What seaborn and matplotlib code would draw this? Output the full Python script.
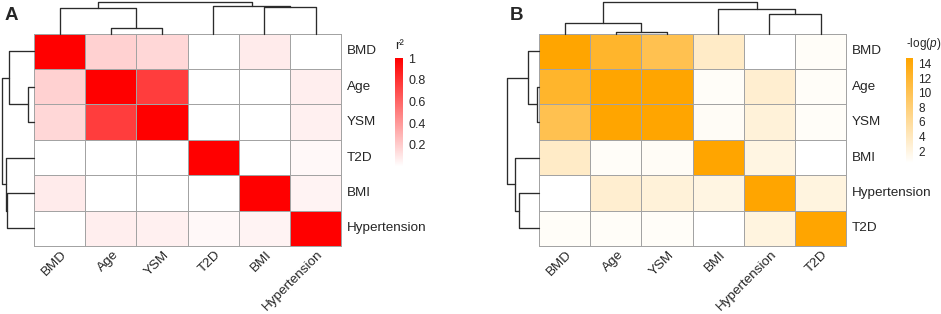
import numpy as np
import pandas as pd
import matplotlib
matplotlib.use("Agg")
import matplotlib.pyplot as plt
import matplotlib.transforms as mtransforms
from matplotlib.colors import LinearSegmentedColormap
import seaborn as sns

# ---------------- data ----------------
labels_a = ["BMD", "Age", "YSM", "T2D", "BMI", "Hypertension"]
r2 = [
    [1.00, 0.18, 0.16, 0.00, 0.08, 0.00],
    [0.18, 1.00, 0.76, 0.00, 0.00, 0.07],
    [0.16, 0.76, 1.00, 0.00, 0.00, 0.06],
    [0.00, 0.00, 0.00, 1.00, 0.00, 0.03],
    [0.08, 0.00, 0.00, 0.00, 1.00, 0.05],
    [0.00, 0.07, 0.06, 0.03, 0.05, 1.00],
]
# (left, right, height) - new clusters get ids n, n+1, ...
merges_a = [(1, 2, 0.19), (0, 6, 0.79), (4, 5, 0.83), (3, 8, 0.86), (7, 9, 1.00)]
ticks_a = [0.2, 0.4, 0.6, 0.8, 1.0]
ticklabels_a = ["0.2", "0.4", "0.6", "0.8", "1"]

labels_b = ["BMD", "Age", "YSM", "BMI", "Hypertension", "T2D"]
logp = [
    [14.7, 12.2, 10.2, 3.5, 0.36, 0.8],
    [12.2, 14.7, 14.7, 0.8, 3.0, 0.8],
    [10.2, 14.7, 14.7, 0.9, 2.5, 0.8],
    [3.5, 0.8, 0.9, 14.7, 2.0, 0.36],
    [0.36, 3.0, 2.5, 2.0, 14.7, 2.2],
    [0.8, 0.8, 0.8, 0.36, 2.2, 14.7],
]
merges_b = [(1, 2, 0.05), (0, 6, 0.34), (4, 5, 0.62), (3, 8, 0.76), (7, 9, 1.00)]
ticks_b = [2, 4, 6, 8, 10, 12, 14]

# ---------------- style ----------------
sns.set_style("white")
plt.rcParams["font.family"] = ["Liberation Sans", "DejaVu Sans"]
plt.rcParams["mathtext.fontset"] = "custom"
plt.rcParams["mathtext.rm"] = "Liberation Sans"
plt.rcParams["mathtext.it"] = "Liberation Sans:italic"

W, H = 941, 314
fig = plt.figure(figsize=(W / 100, H / 100), dpi=100)


def px_axes(x0, y0, x1, y1):
    return fig.add_axes([x0 / W, 1 - y1 / H, (x1 - x0) / W, (y1 - y0) / H])


def draw_dendro(ax, merges, n, orient):
    pos = {i: i + 0.5 for i in range(n)}
    hgt = {i: 0.0 for i in range(n)}
    for k, (a, b, h) in enumerate(merges):
        xs = [pos[a], pos[a], pos[b], pos[b]]
        ys = [hgt[a], h, h, hgt[b]]
        if orient == "top":
            ax.plot(xs, ys, color="#2b2b2b", lw=0.95, clip_on=False)
        else:
            ax.plot(ys, xs, color="#2b2b2b", lw=0.95, clip_on=False)
        pos[n + k] = (pos[a] + pos[b]) / 2
        hgt[n + k] = h
    if orient == "top":
        ax.set_xlim(0, n)
        ax.set_ylim(0, 1)
    else:
        ax.set_xlim(1, 0)
        ax.set_ylim(n, 0)
    ax.axis("off")


def panel(x0, data, labels, merges, color, vmin, vmax, ticks, ticklabels,
          cb_box, cb_title, cb_title_fs, cb_fs, letter):
    n = len(labels)
    df = pd.DataFrame(data, index=labels, columns=labels)
    cmap = LinearSegmentedColormap.from_list("c", ["white", color])
    hm = px_axes(x0, 33.7, x0 + 307.2, 246)
    cax = px_axes(*cb_box)
    sns.heatmap(df, ax=hm, cmap=cmap, vmin=vmin, vmax=vmax,
                linewidths=0.7, linecolor="#A3A3A3", cbar_ax=cax)
    hm.collections[0].set_clip_on(False)

    hm.yaxis.tick_right()
    hm.tick_params(axis="y", length=0, pad=4, labelsize=9.7, rotation=0)
    hm.tick_params(axis="x", length=0, pad=5, labelsize=9.7)
    shift = mtransforms.ScaledTranslation(4 / 72, 0, fig.dpi_scale_trans)
    for lbl in hm.get_xticklabels():
        lbl.set_rotation(45)
        lbl.set_ha("right")
        lbl.set_va("center")
        lbl.set_rotation_mode("anchor")
        lbl.set_transform(lbl.get_transform() + shift)
    for lbl in hm.get_yticklabels():
        lbl.set_va("center")
    hm.set_xlabel("")
    hm.set_ylabel("")

    cbar = hm.collections[0].colorbar
    cbar.outline.set_visible(False)
    cbar.set_ticks(ticks)
    cbar.set_ticklabels(ticklabels)
    cax.tick_params(length=0, pad=4, labelsize=cb_fs)
    cax.text(0, 1.06, cb_title, transform=cax.transAxes, ha="left", va="bottom",
             fontsize=cb_title_fs)

    top = px_axes(x0, 1.7, x0 + 307.2, 33.7)
    draw_dendro(top, merges, n, "top")
    left = px_axes(x0 - 32, 33.7, x0, 246)
    draw_dendro(left, merges, n, "left")

    fig.text((x0 - 29) / W, 1 - 6.5 / H, letter, fontsize=13.5, fontweight="bold",
             ha="left", va="top")


panel(34, r2, labels_a, merges_a, "#FF0000", 0, 1, ticks_a, ticklabels_a,
      (395, 58.3, 402.7, 166.6), "r²", 9.5, 9, "A")
panel(539, logp, labels_b, merges_b, "#FFA500", 0.36, 14.7, ticks_b,
      [str(t) for t in ticks_b], (905.7, 58.3, 912.7, 163), "-log($\\it{p}$)", 8.5, 8.5, "B")

fig.savefig("out.png", dpi=100)
